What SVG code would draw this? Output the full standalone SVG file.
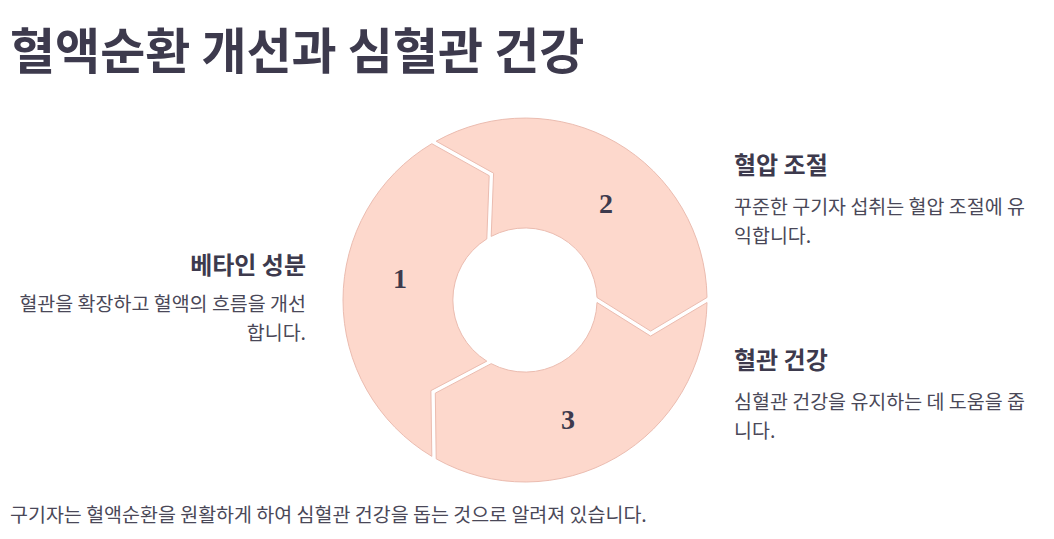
<svg xmlns="http://www.w3.org/2000/svg" width="1054" height="539" viewBox="0 0 1054 539">
<style>
.title{font-family:"Noto Sans CJK KR","Noto Sans",sans-serif;font-weight:700;font-size:49px;fill:#3d3a4d}
.head{font-family:"Noto Sans CJK KR","Noto Sans",sans-serif;font-weight:700;font-size:24px;fill:#3d3a4d}
.body{font-family:"Noto Sans CJK KR","Noto Sans",sans-serif;font-weight:400;font-size:19.5px;fill:#4a4858}
.num{font-family:"Liberation Serif","DejaVu Serif",serif;font-weight:700;font-size:28px;fill:#3d3a4d;text-anchor:middle}
.seg{fill:#fdd8cc;stroke:#ebbcb0;stroke-width:1}
</style>
<rect width="1054" height="539" fill="#ffffff"/>
<text class="title" x="10" y="69">혈액순환 개선과 심혈관 건강</text>
<g id="ring">
<g id="seg1">
<path class="seg" d="M431.8,456.35 A182,182 0 0,1 431.8,143.7 L489.2,175.7 L486.8,238.9 A72,72 0 0,0 486.8,361.15 L430.9,390.65 Z"/>
<text class="num" x="400" y="288">1</text>
</g>
<g id="seg2">
<path class="seg" d="M436.2,141.2 A182,182 0 0,1 707,297.5 L650.6,331.1 L597,297.5 A72,72 0 0,0 491.2,236.4 L493.6,173.2 Z"/>
<text class="num" x="606" y="213">2</text>
</g>
<g id="seg3">
<path class="seg" d="M707,302.5 A182,182 0 0,1 436.2,458.85 L435.3,393.15 L491.2,363.65 A72,72 0 0,0 597,302.5 L650.6,336.1 Z"/>
<text class="num" x="568" y="429">3</text>
</g>
</g>
<g id="label1" text-anchor="end">
<text class="head" x="306" y="274">베타인 성분</text>
<text class="body" x="306" y="311">혈관을 확장하고 혈액의 흐름을 개선</text>
<text class="body" x="306" y="340">합니다.</text>
</g>
<g id="label2">
<text class="head" x="734" y="174">혈압 조절</text>
<text class="body" x="734" y="214">꾸준한 구기자 섭취는 혈압 조절에 유</text>
<text class="body" x="734" y="243">익합니다.</text>
</g>
<g id="label3">
<text class="head" x="734" y="369">혈관 건강</text>
<text class="body" x="734" y="409">심혈관 건강을 유지하는 데 도움을 줍</text>
<text class="body" x="734" y="438">니다.</text>
</g>
<g id="connectors"></g>
<text id="footer" class="body" x="10" y="522">구기자는 혈액순환을 원활하게 하여 심혈관 건강을 돕는 것으로 알려져 있습니다.</text>
</svg>
